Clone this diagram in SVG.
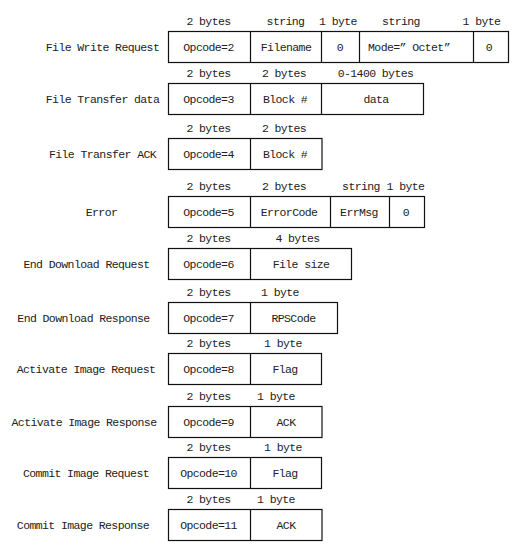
<svg xmlns="http://www.w3.org/2000/svg" width="520" height="548" viewBox="0 0 520 548">
<style>
text{font-family:"Liberation Mono","DejaVu Sans Mono",monospace;font-size:11.5px;letter-spacing:-0.6px;fill:#222;text-anchor:middle}
.box{fill:none;stroke:#111;stroke-width:1.2}
.div{stroke:#111;stroke-width:1.2}
</style>
<rect x="0" y="0" width="520" height="548" fill="#ffffff"/>

<g id="file-write-request" transform="translate(0,31.5)">
  <text x="208.5" y="-7">2 bytes</text><text x="285.5" y="-7">string</text><text x="338" y="-7">1 byte</text><text x="401" y="-7">string</text><text x="481.5" y="-7">1 byte</text>
  <text x="102.5" y="19">File Write Request</text>
  <rect class="box" x="168.5" y="0" width="340" height="31"/>
  <line class="div" x1="250.5" y1="0" x2="250.5" y2="31"/><line class="div" x1="321.5" y1="0" x2="321.5" y2="31"/><line class="div" x1="359.5" y1="0" x2="359.5" y2="31"/><line class="div" x1="473.5" y1="0" x2="473.5" y2="31"/>
  <text x="208.5" y="19">Opcode=2</text><text x="286" y="19">Filename</text><text x="340" y="19">0</text><text x="409" y="19">Mode=” Octet”</text><text x="489" y="19">0</text>
</g>

<g id="file-transfer-data" transform="translate(0,83.5)">
  <text x="208.5" y="-7">2 bytes</text><text x="284" y="-7">2 bytes</text><text x="375.5" y="-7">0-1400 bytes</text>
  <text x="102.5" y="19">File Transfer data</text>
  <rect class="box" x="168.5" y="0" width="255" height="31"/>
  <line class="div" x1="250.5" y1="0" x2="250.5" y2="31"/><line class="div" x1="321.5" y1="0" x2="321.5" y2="31"/>
  <text x="208.5" y="19">Opcode=3</text><text x="285" y="19">Block #</text><text x="376" y="19">data</text>
</g>

<g id="file-transfer-ack" transform="translate(0,138.5)">
  <text x="208.5" y="-7">2 bytes</text><text x="284" y="-7">2 bytes</text>
  <text x="102.5" y="19">File Transfer ACK</text>
  <rect class="box" x="168.5" y="0" width="153.5" height="31"/>
  <line class="div" x1="250.5" y1="0" x2="250.5" y2="31"/>
  <text x="208.5" y="19">Opcode=4</text><text x="285" y="19">Block #</text>
</g>

<g id="error" transform="translate(0,196.5)">
  <text x="208.5" y="-7">2 bytes</text><text x="284" y="-7">2 bytes</text><text x="361" y="-7">string</text><text x="405.5" y="-7">1 byte</text>
  <text x="101.5" y="19">Error</text>
  <rect class="box" x="168.5" y="0" width="256" height="31"/>
  <line class="div" x1="250.5" y1="0" x2="250.5" y2="31"/><line class="div" x1="330.5" y1="0" x2="330.5" y2="31"/><line class="div" x1="389.5" y1="0" x2="389.5" y2="31"/>
  <text x="208.5" y="19">Opcode=5</text><text x="289" y="19">ErrorCode</text><text x="359" y="19">ErrMsg</text><text x="406" y="19">0</text>
</g>

<g id="end-download-request" transform="translate(0,248.5)">
  <text x="208.5" y="-7">2 bytes</text><text x="297.5" y="-7">4 bytes</text>
  <text x="86.5" y="19">End Download Request</text>
  <rect class="box" x="168.5" y="0" width="183" height="31"/>
  <line class="div" x1="250.5" y1="0" x2="250.5" y2="31"/>
  <text x="208.5" y="19">Opcode=6</text><text x="301" y="19">File size</text>
</g>

<g id="end-download-response" transform="translate(0,302.5)">
  <text x="208.5" y="-7">2 bytes</text><text x="280" y="-7">1 byte</text>
  <text x="83.5" y="19">End Download Response</text>
  <rect class="box" x="168.5" y="0" width="169" height="31"/>
  <line class="div" x1="250.5" y1="0" x2="250.5" y2="31"/>
  <text x="208.5" y="19">Opcode=7</text><text x="293.5" y="19">RPSCode</text>
</g>

<g id="activate-image-request" transform="translate(0,353.5)">
  <text x="208.5" y="-7">2 bytes</text><text x="283" y="-7">1 byte</text>
  <text x="86" y="19">Activate Image Request</text>
  <rect class="box" x="168.5" y="0" width="153" height="31"/>
  <line class="div" x1="250.5" y1="0" x2="250.5" y2="31"/>
  <text x="208.5" y="19">Opcode=8</text><text x="285" y="19">Flag</text>
</g>

<g id="activate-image-response" transform="translate(0,406.5)">
  <text x="208.5" y="-7">2 bytes</text><text x="276" y="-7">1 byte</text>
  <text x="84" y="19">Activate Image Response</text>
  <rect class="box" x="168.5" y="0" width="153.5" height="31"/>
  <line class="div" x1="250.5" y1="0" x2="250.5" y2="31"/>
  <text x="208.5" y="19">Opcode=9</text><text x="286" y="19">ACK</text>
</g>

<g id="commit-image-request" transform="translate(0,457.5)">
  <text x="208.5" y="-7">2 bytes</text><text x="283" y="-7">1 byte</text>
  <text x="86" y="19">Commit Image Request</text>
  <rect class="box" x="168.5" y="0" width="153" height="31"/>
  <line class="div" x1="250.5" y1="0" x2="250.5" y2="31"/>
  <text x="208.5" y="19">Opcode=10</text><text x="285" y="19">Flag</text>
</g>

<g id="commit-image-response" transform="translate(0,509.5)">
  <text x="208.5" y="-7">2 bytes</text><text x="276" y="-7">1 byte</text>
  <text x="83" y="19">Commit Image Response</text>
  <rect class="box" x="168.5" y="0" width="153.5" height="31"/>
  <line class="div" x1="250.5" y1="0" x2="250.5" y2="31"/>
  <text x="208.5" y="19">Opcode=11</text><text x="286" y="19">ACK</text>
</g>

<g id="connectors"></g>
</svg>
